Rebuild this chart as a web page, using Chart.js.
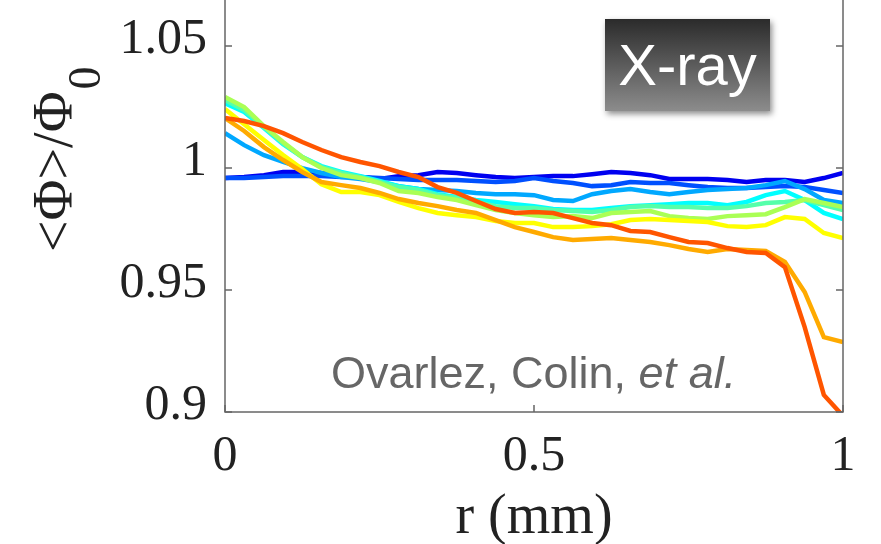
<!DOCTYPE html>
<html lang="en">
<head>
    <meta charset="UTF-8">
    <title>Concentration profiles</title>
    <script src="https://cdn.jsdelivr.net/npm/chart.js@4/dist/chart.umd.min.js"></script>
    <style>
        body { margin: 0; background: #fff; }
        #wrap { position: relative; width: 881px; height: 544px; overflow: hidden; }
        #badge {
            position: absolute; left: 605px; top: 19px; width: 165px; height: 92px;
            background: linear-gradient(#2b2b2b, #8c8c8c);
            box-shadow: 2px 3px 6px rgba(0,0,0,0.45);
            color: #fff; font: 58px/92px "Liberation Sans", Arial, sans-serif;
            text-align: center;
        }
        #credit {
            position: absolute; left: 331px; top: 350px; white-space: nowrap;
            color: #666; font: 45px/45px "Liberation Sans", Arial, sans-serif;
        }
    </style>
</head>
<body>
    <div id="wrap">
        <canvas id="chart" width="881" height="544"></canvas>
        <div id="badge">X-ray</div>
        <div id="credit">Ovarlez, Colin, <i>et al.</i></div>
    </div>

    <script>
        // radial position (mm)
        const radius = [0, 0.031, 0.063, 0.094, 0.125, 0.156, 0.188, 0.219, 0.25, 0.281, 0.313,
            0.344, 0.375, 0.406, 0.438, 0.469, 0.5, 0.531, 0.563, 0.594, 0.625, 0.656, 0.688,
            0.719, 0.75, 0.781, 0.813, 0.844, 0.875, 0.906, 0.938, 0.969, 1];

        // <phi>/phi0 profiles, one per curve
        const blue = [0.9959, 0.9963, 0.9971, 0.9984, 0.9984, 0.998, 0.9971, 0.9963, 0.9955, 0.9967, 0.9971,
            0.9984, 0.998, 0.9971, 0.9963, 0.9959, 0.9963, 0.9967, 0.9967, 0.9975, 0.9984, 0.998, 0.9971,
            0.9955, 0.9955, 0.9955, 0.9951, 0.9943, 0.9951, 0.9951, 0.9943, 0.9959, 0.998];
        const royal = [0.9959, 0.9959, 0.9963, 0.9967, 0.9967, 0.9967, 0.9963, 0.9963, 0.9959, 0.9955, 0.9951,
            0.9951, 0.9951, 0.9947, 0.9943, 0.9947, 0.9959, 0.9947, 0.9939, 0.9926, 0.993, 0.9943, 0.9939,
            0.9939, 0.993, 0.9922, 0.9918, 0.9918, 0.9922, 0.9926, 0.9922, 0.991, 0.9898];
        const azure = [1.0143, 1.0094, 1.0053, 1.0025, 1.0, 0.998, 0.9963, 0.9955, 0.9943, 0.9926, 0.9914,
            0.991, 0.9906, 0.9898, 0.9893, 0.9893, 0.9889, 0.9869, 0.9865, 0.9893, 0.9906, 0.9914, 0.9902,
            0.9893, 0.9902, 0.991, 0.9914, 0.9918, 0.993, 0.9947, 0.9914, 0.9869, 0.9857];
        const cyan = [1.0266, 1.023, 1.0164, 1.0098, 1.0045, 1.0008, 0.9984, 0.9967, 0.9947, 0.9926, 0.9914,
            0.9893, 0.9881, 0.9869, 0.9861, 0.9852, 0.9844, 0.9832, 0.9828, 0.9828, 0.9836, 0.9844, 0.9848,
            0.9852, 0.9857, 0.9857, 0.9848, 0.9861, 0.9889, 0.9906, 0.9869, 0.9816, 0.9791];
        const aqua = [1.0279, 1.0238, 1.0168, 1.0102, 1.0045, 1.0004, 0.998, 0.9963, 0.9943, 0.9922, 0.991,
            0.9889, 0.9877, 0.9861, 0.9844, 0.9836, 0.9836, 0.9828, 0.9824, 0.982, 0.9828, 0.984, 0.9844,
            0.984, 0.984, 0.9836, 0.9836, 0.9844, 0.9857, 0.9861, 0.9869, 0.9848, 0.9828];
        const lime = [1.0291, 1.025, 1.0172, 1.0107, 1.0045, 1.0, 0.9971, 0.9959, 0.9939, 0.9906, 0.9898,
            0.9881, 0.9869, 0.9848, 0.9828, 0.9816, 0.9807, 0.9799, 0.9803, 0.9795, 0.9816, 0.982, 0.9824,
            0.9803, 0.9795, 0.9791, 0.9803, 0.9807, 0.9811, 0.984, 0.9873, 0.9857, 0.984];
        const yellow = [1.0242, 1.018, 1.0115, 1.0053, 0.9996, 0.9934, 0.9902, 0.9902, 0.9889, 0.9861, 0.9836,
            0.9816, 0.9807, 0.9799, 0.9783, 0.9775, 0.9775, 0.9758, 0.9758, 0.9762, 0.977, 0.9787, 0.9791,
            0.9787, 0.9783, 0.9779, 0.9762, 0.9758, 0.9766, 0.9799, 0.9791, 0.9734, 0.9713];
        const orange = [1.0205, 1.0152, 1.0086, 1.0033, 0.9984, 0.9943, 0.993, 0.9918, 0.9898, 0.9873, 0.9857,
            0.9844, 0.9828, 0.9816, 0.9787, 0.9758, 0.9738, 0.9717, 0.9705, 0.9709, 0.9713, 0.9705, 0.9697,
            0.9684, 0.9668, 0.9656, 0.9668, 0.9664, 0.966, 0.9615, 0.9492, 0.9307, 0.9287];
        const red = [1.0205, 1.0193, 1.0172, 1.0143, 1.0107, 1.0074, 1.0045, 1.0025, 1.0008, 0.9984, 0.9963,
            0.9922, 0.9898, 0.9865, 0.9832, 0.9816, 0.982, 0.9816, 0.9795, 0.9775, 0.9766, 0.9742, 0.9738,
            0.9717, 0.9697, 0.9693, 0.9672, 0.9656, 0.9652, 0.9594, 0.9348, 0.907, 0.8984];

        const profiles = [blue, royal, azure, cyan, aqua, lime, yellow, orange, red];
        const colors = ['#0000f0', '#0050ff', '#00a8ff', '#00ffff', '#55ffaa', '#aaff55', '#ffff00', '#ffaa00', '#ff5500'];

        const xTicks = [0, 0.5, 1];
        const yTicks = [0.9, 0.95, 1, 1.05];
        const yTop = 1.07;  // axes box top, just above the visible area

        const serif = '"Liberation Serif", "Times New Roman", serif';
        const ink = '#222';

        const datasets = profiles.map((vals, i) => ({
            data: vals.map((v, k) => ({x: radius[k], y: v})),
            borderColor: colors[i],
            borderWidth: 4.5,
            pointRadius: 0,
            tension: 0,
            clip: 0,
            order: profiles.length - i   // later curves on top
        }));

        // MATLAB-like box with inward ticks + y label with subscript
        const axesBox = {
            id: 'axesBox',
            afterDatasetsDraw(chart) {
                const {ctx, scales: {x, y}} = chart;
                const left = x.getPixelForValue(0), right = x.getPixelForValue(1);
                const bottom = y.getPixelForValue(0.9), top = y.getPixelForValue(yTop);
                ctx.save();
                ctx.strokeStyle = '#666';
                ctx.lineWidth = 1.5;
                ctx.strokeRect(left, top, right - left, bottom - top);
                ctx.beginPath();
                for (const v of yTicks) {
                    const p = y.getPixelForValue(v);
                    ctx.moveTo(left, p); ctx.lineTo(left + 7, p);
                    ctx.moveTo(right, p); ctx.lineTo(right - 7, p);
                }
                for (const v of xTicks) {
                    const p = x.getPixelForValue(v);
                    ctx.moveTo(p, bottom); ctx.lineTo(p, bottom - 7);
                }
                ctx.stroke();
                ctx.restore();
            },
            afterDraw(chart) {
                const {ctx} = chart;
                ctx.save();
                ctx.fillStyle = ink;
                ctx.translate(72, 252);
                ctx.rotate(-Math.PI / 2);
                ctx.textAlign = 'left';
                ctx.textBaseline = 'alphabetic';
                ctx.font = '56px ' + serif;
                const main = '<\u03A6>/\u03A6';
                ctx.fillText(main, 0, 0);
                const w = ctx.measureText(main).width;
                ctx.font = '46px ' + serif;
                ctx.fillText('0', w + 2, 28);
                ctx.restore();
            }
        };

        new Chart(document.getElementById('chart'), {
            type: 'line',
            data: {datasets},
            options: {
                responsive: false,
                animation: false,
                events: [],
                layout: {padding: {left: 0, right: 38, top: 0, bottom: 0}},
                plugins: {legend: {display: false}, tooltip: {enabled: false}},
                scales: {
                    x: {
                        type: 'linear',
                        min: 0,
                        max: 1,
                        afterBuildTicks: s => { s.ticks = xTicks.map(v => ({value: v})); },
                        afterFit: s => { s.height = 132; s.paddingLeft = 0; s.paddingRight = 0; },
                        grid: {display: false},
                        border: {display: false},
                        ticks: {
                            padding: 7,
                            color: ink,
                            maxRotation: 0,
                            font: {family: serif, size: 50},
                            callback: v => String(v)
                        },
                        title: {
                            display: true,
                            text: 'r (mm)',
                            color: ink,
                            padding: 0,
                            font: {family: serif, size: 56, lineHeight: 0.93}
                        }
                    },
                    y: {
                        type: 'linear',
                        min: 0.9,
                        max: 1.0689,
                        afterBuildTicks: s => { s.ticks = yTicks.map(v => ({value: v})); },
                        // the plot runs up to the top edge, no room kept for labels there
                        afterFit: s => { s.width = 225; s.paddingTop = 0; s.paddingBottom = 0; },
                        grid: {display: false},
                        border: {display: false},
                        ticks: {
                            padding: 10,
                            labelOffset: -6,
                            color: ink,
                            font: {family: serif, size: 50},
                            callback: v => String(v)
                        }
                    }
                }
            },
            plugins: [axesBox]
        });
    </script>
</body>
</html>
